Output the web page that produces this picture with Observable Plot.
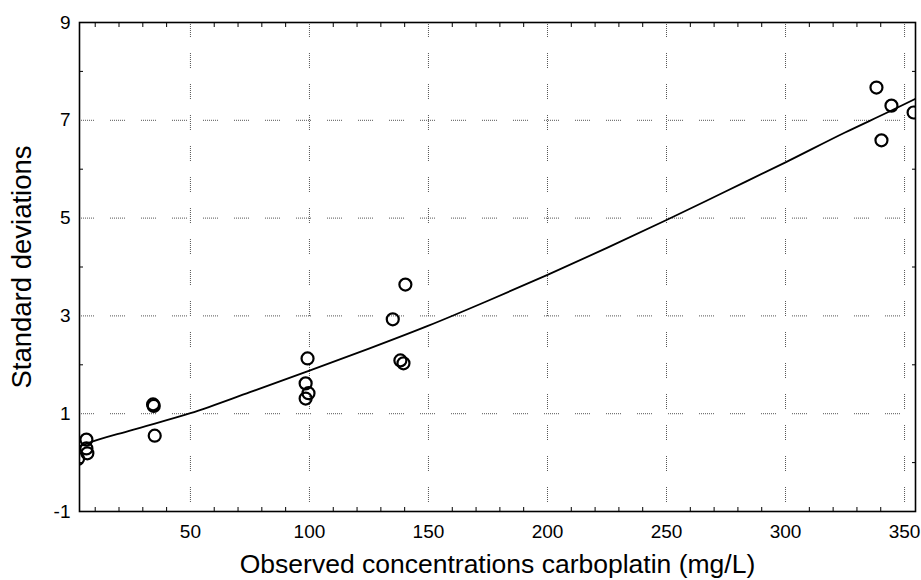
<!DOCTYPE html>
<html>
<head>
<meta charset="utf-8">
<script src="https://cdn.jsdelivr.net/npm/d3@7"></script>
<script src="https://cdn.jsdelivr.net/npm/@observablehq/plot@0.6"></script>
<style>
  html, body { margin: 0; padding: 0; background: white; }
</style>
</head>
<body>
<div id="chart"></div>
<script>
// Observed points
const obsX = [2.8, 6.3, 6.3, 6.7, 34.3, 34.6, 35.0, 99.2, 98.4, 99.6, 98.4, 135.0, 140.3, 138.2, 139.5, 338.2, 340.3, 344.5, 353.8];
const obsY = [0.08, 0.47, 0.29, 0.19, 1.19, 1.16, 0.55, 2.13, 1.62, 1.42, 1.31, 2.93, 3.64, 2.09, 2.03, 7.67, 6.59, 7.30, 7.16];

// Fitted curve
const curveX = [3.4, 6, 25, 50, 75, 100, 125, 150, 175, 200, 225, 250, 275, 300, 325, 344.5, 354.6];
const curveY = [0.33, 0.38, 0.66, 1.01, 1.44, 1.88, 2.33, 2.80, 3.31, 3.84, 4.39, 4.96, 5.55, 6.14, 6.75, 7.20, 7.44];

// Axis ticks
const xTicks = [50, 100, 150, 200, 250, 300, 350];
const yTicks = [-1, 1, 3, 5, 7, 9];
const yGrid = [1, 3, 5, 7];
const xMinor = [10, 20, 30, 40, 60, 70, 80, 90, 110, 120, 130, 140, 160, 170, 180, 190, 210, 220, 230, 240, 260, 270, 280, 290, 310, 320, 330, 340];
const yMinor = [0, 2, 4, 6, 8];

const xTitle = "Observed concentrations carboplatin (mg/L)";
const yTitle = "Standard deviations";

const points = obsX.map((x, i) => ({x, y: obsY[i]}));
const curve = curveX.map((x, i) => ({x, y: curveY[i]}));

const dash = "1,1,1,1,1,1,1,1,1,1,1,1,1,1,1,16";

const chart = Plot.plot({
  width: 921,
  height: 580,
  marginLeft: 79,
  marginRight: 6,
  marginTop: 22,
  marginBottom: 69,
  style: {fontFamily: "'Liberation Sans', Arial, sans-serif", fontSize: "19px", background: "white", color: "black"},
  x: {domain: [3.4, 354.6]},
  y: {domain: [-1, 9]},
  marks: [
    Plot.gridX(xTicks, {stroke: "#555", strokeOpacity: 1, strokeWidth: 1, strokeDasharray: dash}),
    Plot.gridY(yGrid, {stroke: "#555", strokeOpacity: 1, strokeWidth: 1, strokeDasharray: dash}),
    Plot.axisX(xTicks, {anchor: "bottom", tickSize: 0, tickPadding: 13, label: null, tickFormat: d => String(d)}),
    Plot.axisY(yTicks, {anchor: "left", tickSize: 0, tickPadding: 9, label: null, tickFormat: d => String(d)}),
    Plot.axisX(xMinor, {anchor: "bottom", tickSize: -4, tickFormat: () => "", label: null}),
    Plot.axisX(xMinor, {anchor: "top", tickSize: -4, tickFormat: () => "", label: null}),
    Plot.axisY(yMinor, {anchor: "left", tickSize: -4, tickFormat: () => "", label: null}),
    Plot.axisY(yMinor, {anchor: "right", tickSize: -4, tickFormat: () => "", label: null}),
    Plot.line(curve, {x: "x", y: "y", stroke: "black", strokeWidth: 1.8, curve: "monotone-x", clip: "frame"}),
    Plot.dot(points, {x: "x", y: "y", r: 6, stroke: "black", strokeWidth: 2.2, fill: "none", clip: "frame"}),
    Plot.frame({stroke: "black", strokeWidth: 1.6}),
    Plot.text([xTitle], {text: d => d, frameAnchor: "bottom", dy: 53, fontSize: 26.5, textAnchor: "middle", lineAnchor: "middle", fill: "black"}),
    Plot.text([yTitle], {text: d => d, frameAnchor: "left", dx: -57, rotate: -90, fontSize: 27.5, textAnchor: "middle", lineAnchor: "middle", fill: "black"})
  ]
});

document.getElementById("chart").appendChild(chart);
</script>
</body>
</html>
